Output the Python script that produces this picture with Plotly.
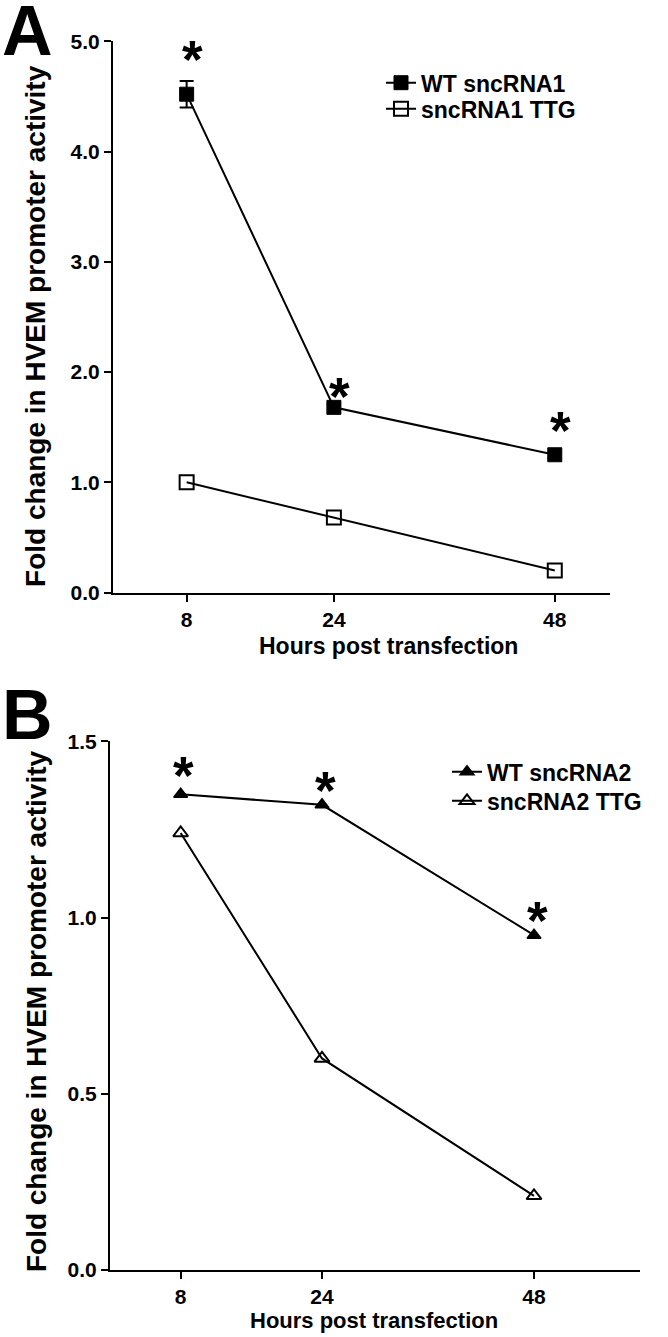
import plotly.graph_objects as go

# ---------------- data ----------------
hours = [8, 24, 48]
x_tick_vals = [8, 24, 48]

# Panel A
wt1 = [4.52, 1.68, 1.25]
wt1_err = [0.12, 0.03, 0.03]
ttg1 = [1.00, 0.68, 0.20]
star1_y = [4.91, 1.85, 1.54]
a_yticks = [0.0, 1.0, 2.0, 3.0, 4.0, 5.0]

# Panel B
wt2 = [1.35, 1.32, 0.95]
ttg2 = [1.24, 0.60, 0.21]
star2_y = [1.425, 1.382, 1.014]
b_yticks = [0.0, 0.5, 1.0, 1.5]

W, H = 668, 1337
FONT = "Liberation Sans, Arial, Helvetica, sans-serif"

# vertical correction for the page capture (observed = 11.7 + 0.984 * design)
Y_OFF, Y_SCALE = 11.7, 0.984


def px_x(p):
    return p / W


def px_y(p):
    d = (p - Y_OFF) / Y_SCALE
    return 1 - d / H


fig = go.Figure()

# Panel A traces
fig.add_trace(go.Scatter(
    x=hours, y=wt1, name="WT sncRNA1", mode="lines+markers",
    line=dict(color="black", width=2),
    marker=dict(symbol="square", size=14, color="black", line=dict(color="black", width=1)),
    error_y=dict(type="data", array=wt1_err, visible=True, color="black", thickness=2, width=7),
    xaxis="x", yaxis="y", legend="legend",
))
fig.add_trace(go.Scatter(
    x=hours, y=ttg1, name="sncRNA1 TTG", mode="lines+markers",
    line=dict(color="black", width=2),
    marker=dict(symbol="square-open", size=14, color="black", line=dict(color="black", width=2)),
    xaxis="x", yaxis="y", legend="legend2",
))

# Panel B traces
fig.add_trace(go.Scatter(
    x=hours, y=wt2, name="WT sncRNA2", mode="lines+markers",
    line=dict(color="black", width=2),
    marker=dict(symbol="triangle-up", size=12, color="black", line=dict(color="black", width=1.5)),
    xaxis="x2", yaxis="y2", legend="legend3",
))
fig.add_trace(go.Scatter(
    x=hours, y=ttg2, name="sncRNA2 TTG", mode="lines+markers",
    line=dict(color="black", width=2),
    marker=dict(symbol="triangle-up-open", size=13, color="black", line=dict(color="black", width=2)),
    xaxis="x2", yaxis="y2", legend="legend4",
))

tickfont = dict(family=FONT, size=21, color="black", weight="bold")
common_x = dict(
    showline=True, linecolor="black", linewidth=2, ticks="outside", ticklen=7,
    tickwidth=2, tickcolor="black", showgrid=False, zeroline=False,
    tickvals=x_tick_vals, ticktext=["<b>%d</b>" % v for v in x_tick_vals], tickfont=tickfont,
)
common_y = dict(
    showline=True, linecolor="black", linewidth=2, ticks="outside", ticklen=7,
    tickwidth=2, tickcolor="black", showgrid=False, zeroline=False, tickfont=tickfont,
)

legfont = dict(family=FONT, size=23, color="black", weight="bold")


def leg(xp, top):
    return dict(x=px_x(xp), y=px_y(top), xanchor="left", yanchor="top",
                bgcolor="rgba(0,0,0,0)", font=legfont)


fig.update_layout(
    width=W, height=H,
    margin=dict(l=0, r=0, t=0, b=0),
    paper_bgcolor="white", plot_bgcolor="white",
    font=dict(family=FONT, color="black"),
    xaxis=dict(domain=[px_x(113), px_x(610)], anchor="y", range=[0, 54], **common_x),
    yaxis=dict(domain=[px_y(593), px_y(41)], anchor="x", range=[0, 5],
               tickvals=a_yticks, ticktext=["<b>%.1f</b>" % v for v in a_yticks], **common_y),
    xaxis2=dict(domain=[px_x(110), px_x(640)], anchor="y2", range=[0, 60], **common_x),
    yaxis2=dict(domain=[px_y(1271), px_y(742)], anchor="x2", range=[0, 1.5],
                tickvals=b_yticks, ticktext=["<b>%.1f</b>" % v for v in b_yticks], **common_y),
    legend=leg(381, 61),
    legend2=leg(381, 87),
    legend3=leg(447, 751),
    legend4=leg(447, 780),
    showlegend=True,
)

ann = []
STAR_FS = 53
# asterisks
for xv, yv in zip(hours, star1_y):
    ann.append(dict(x=xv, y=yv, xref="x", yref="y", text="*", showarrow=False,
                    xanchor="center", yanchor="middle", xshift=6, yshift=-8,
                    font=dict(family=FONT, size=STAR_FS, color="black", weight="bold")))
for xv, yv in zip(hours, star2_y):
    ann.append(dict(x=xv, y=yv, xref="x2", yref="y2", text="*", showarrow=False,
                    xanchor="center", yanchor="middle", xshift=3, yshift=-8,
                    font=dict(family=FONT, size=STAR_FS, color="black", weight="bold")))

# panel letters
ann.append(dict(x=px_x(0), y=px_y(31), xref="paper", yref="paper", text="A", showarrow=False,
                xanchor="left", yanchor="middle",
                font=dict(family=FONT, size=70, color="black", weight="bold")))
ann.append(dict(x=px_x(0), y=px_y(716), xref="paper", yref="paper", text="B", showarrow=False,
                xanchor="left", yanchor="middle",
                font=dict(family=FONT, size=70, color="black", weight="bold")))

# axis titles
ytitle = "Fold change in HVEM promoter activity"
ann.append(dict(x=px_x(36), y=px_y(326), xref="paper", yref="paper", text=ytitle, showarrow=False,
                textangle=-90, xanchor="center", yanchor="middle",
                font=dict(family=FONT, size=28, color="black", weight="bold")))
ann.append(dict(x=px_x(36), y=px_y(1012), xref="paper", yref="paper", text=ytitle, showarrow=False,
                textangle=-90, xanchor="center", yanchor="middle",
                font=dict(family=FONT, size=28, color="black", weight="bold")))
xtitle = "Hours post transfection"
ann.append(dict(x=px_x(388), y=px_y(646), xref="paper", yref="paper", text=xtitle, showarrow=False,
                xanchor="center", yanchor="middle",
                font=dict(family=FONT, size=23, color="black", weight="bold")))
ann.append(dict(x=px_x(374), y=px_y(1322), xref="paper", yref="paper", text=xtitle, showarrow=False,
                xanchor="center", yanchor="middle",
                font=dict(family=FONT, size=22, color="black", weight="bold")))

fig.update_layout(annotations=ann)

post = (
    "var de=document.documentElement, b=document.body;"
    "de.style.margin='0';de.style.padding='0';de.style.overflow='hidden';de.style.height='1337px';"
    "b.style.margin='0';b.style.padding='0';b.style.overflow='hidden';b.style.height='1337px';"
    "var gd=document.getElementById('{plot_id}');"
    "gd.style.position='absolute';gd.style.top='0px';gd.style.left='0px';"
)

fig.write_html(
    "out.html",
    config={"displayModeBar": False},
    post_script=post,
)
